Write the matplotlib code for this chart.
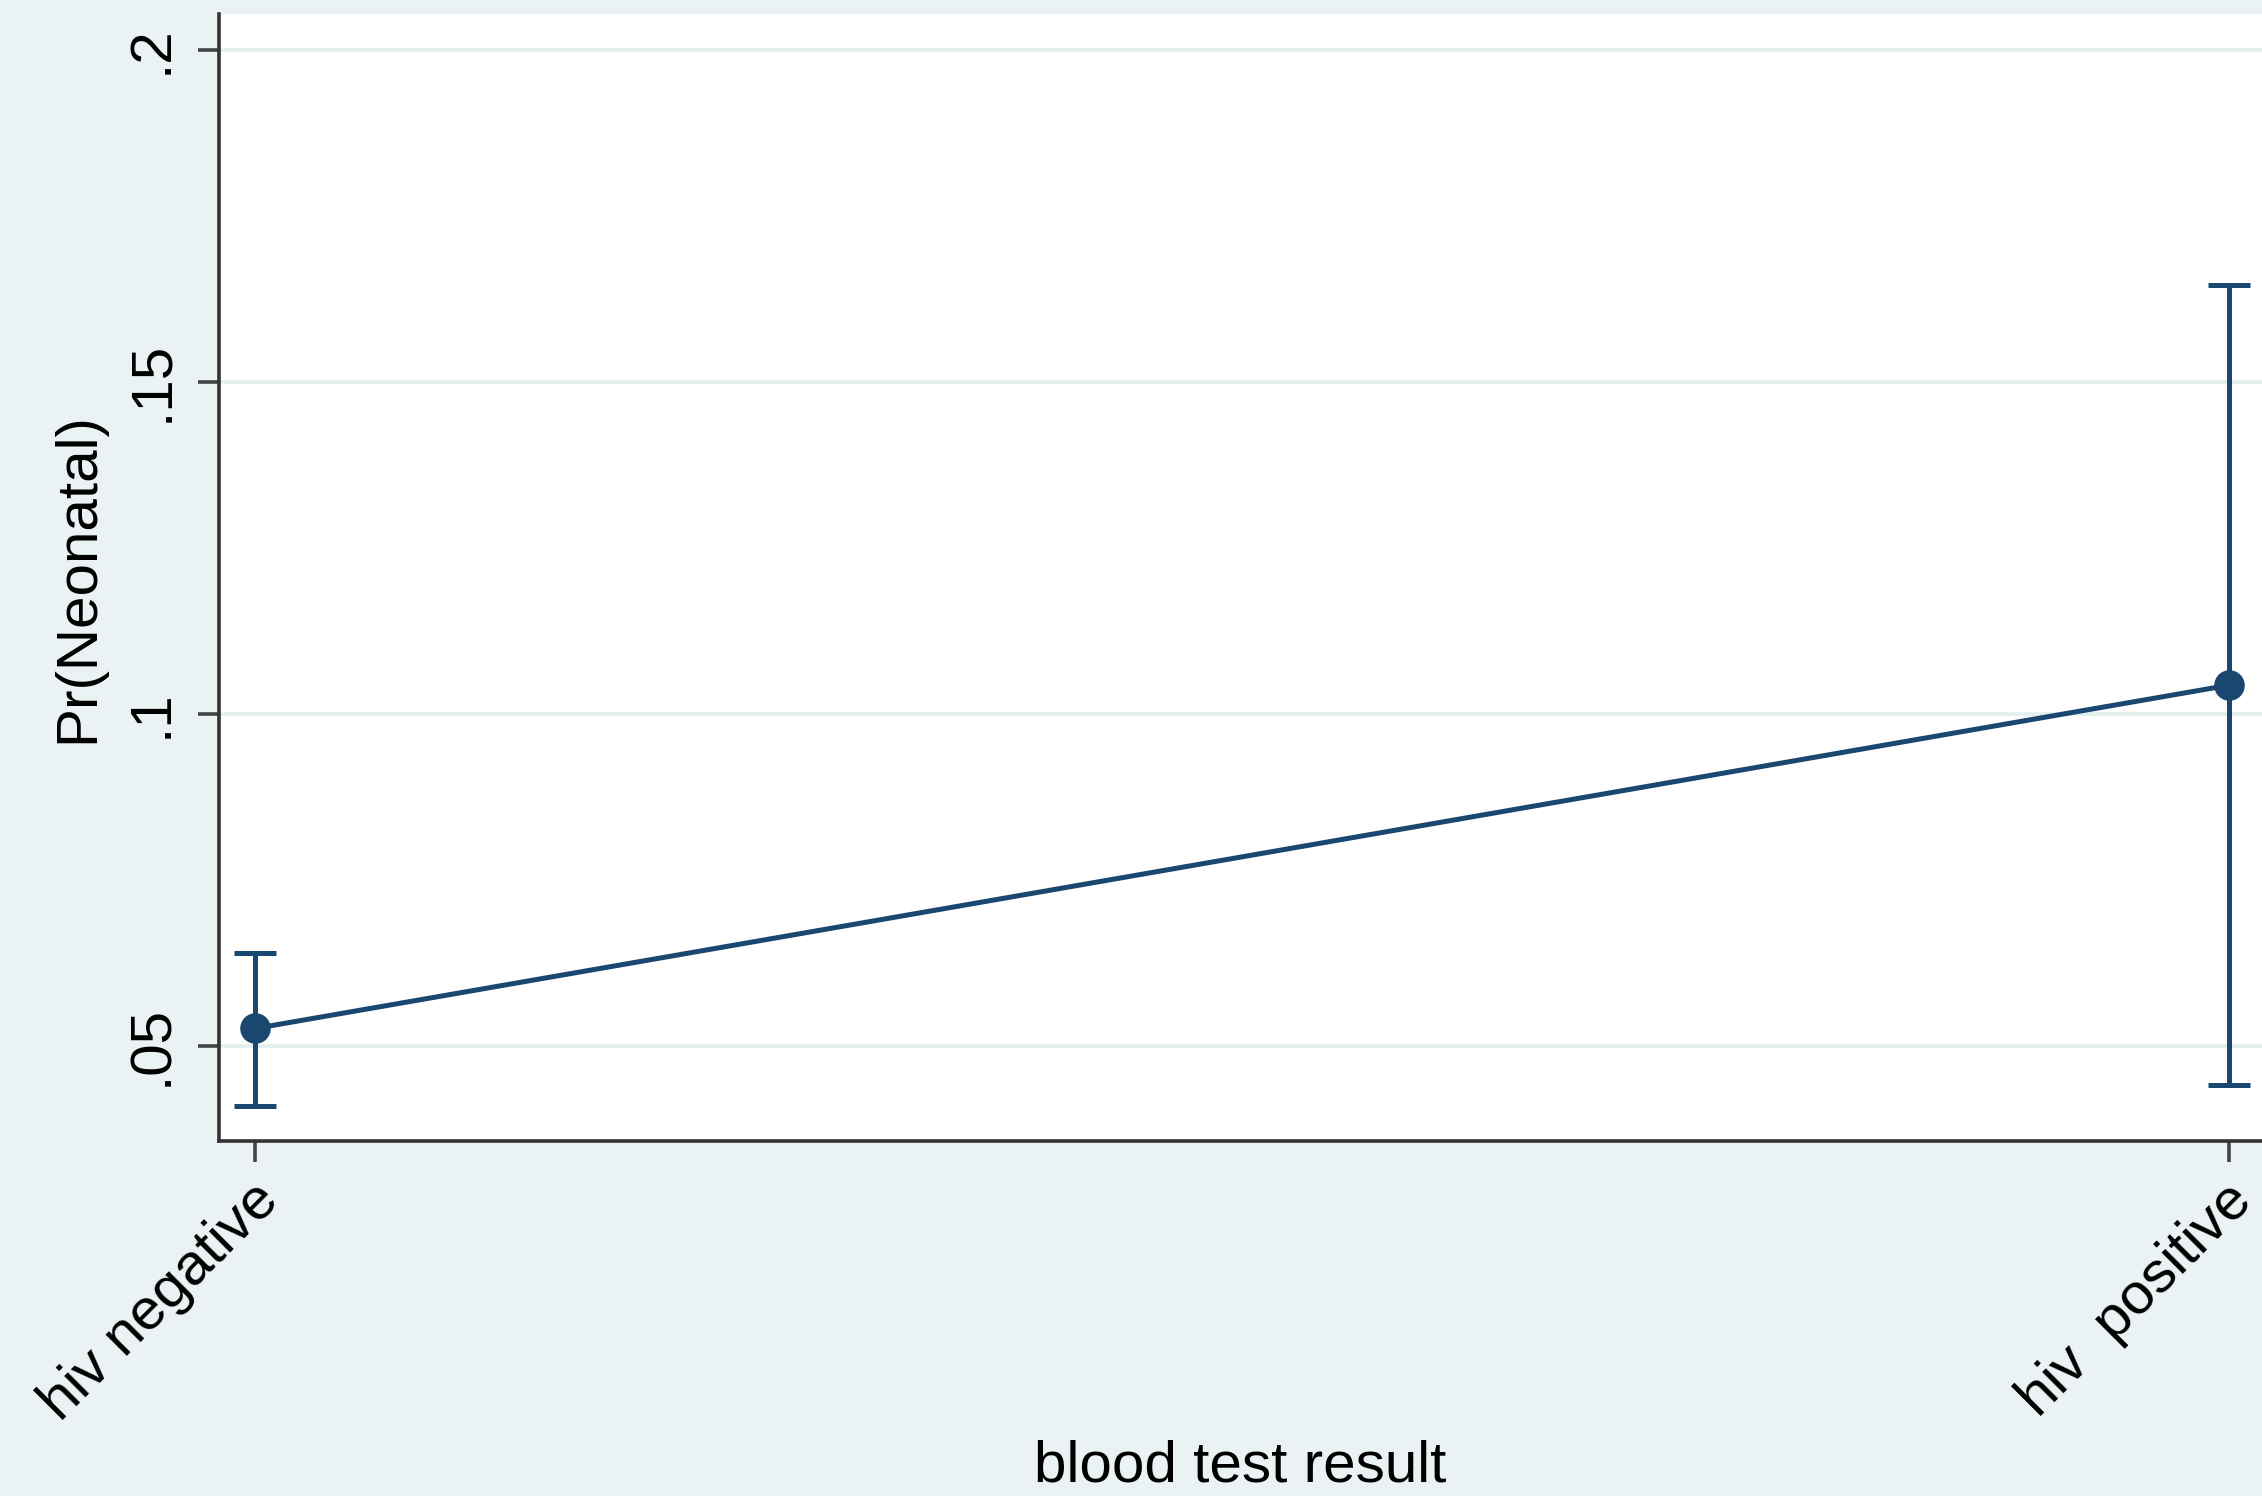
import matplotlib.pyplot as plt
from matplotlib.transforms import ScaledTranslation

plt.rcParams['font.family'] = ['Liberation Sans', 'DejaVu Sans']

categories = ['hiv negative', 'hiv  positive']
margins = [0.0526, 0.1043]
ci_low = [0.0409, 0.0441]
ci_high = [0.0639, 0.1646]
yticks = [0.05, 0.1, 0.15, 0.2]
ytick_labels = ['.05', '.1', '.15', '.2']

bg = '#eaf2f3'
navy = '#1a476f'
fs = 42

fig = plt.figure(figsize=(22.62, 14.96), dpi=100, facecolor=bg)
ax = fig.add_axes([0.0968, 0.2373, 0.9032, 0.7533])
ax.set_facecolor('white')

x = list(range(len(categories)))
yerr = [[m - lo for m, lo in zip(margins, ci_low)],
        [hi - m for m, hi in zip(margins, ci_high)]]

ax.errorbar(x, margins, yerr=yerr, color=navy, lw=3.6, marker='o',
            markersize=21, capsize=15, capthick=3.6, elinewidth=3.6, zorder=3)

ax.set_xlim(-0.0183, 1.0168)
ax.set_ylim(0.03565, 0.2054)
ax.set_yticks(yticks)
ax.set_yticklabels(ytick_labels, rotation=90, va='center', fontsize=fs)
ax.set_xticks(x)
ax.set_xticklabels([])

# slanted category labels, ending just under their tick
shift = ScaledTranslation(-4 / 100, -32 / 100, fig.dpi_scale_trans)
for xi, name in zip(x, categories):
    ax.text(xi, 0, name, transform=ax.get_xaxis_transform() + shift,
            rotation=45, ha='right', va='top', rotation_mode='anchor',
            fontsize=fs)

ax.grid(axis='y', color='#e3eef0', lw=2.6)
ax.set_axisbelow(True)

for s in ['top', 'right']:
    ax.spines[s].set_visible(False)
for s in ['left', 'bottom']:
    ax.spines[s].set_linewidth(2.6)
    ax.spines[s].set_color('#333333')
ax.tick_params(length=15, width=2.6, color='#444444', pad=8)
ax.tick_params(axis='y', pad=14)

ax.set_ylabel('Pr(Neonatal)', fontsize=fs, labelpad=14)
ax.set_xlabel('blood test result', fontsize=fs)
ax.xaxis.label.set_va('center')
ax.xaxis.set_label_coords(0.5, -0.289)

fig.savefig('out.png', dpi=100, facecolor=bg)
